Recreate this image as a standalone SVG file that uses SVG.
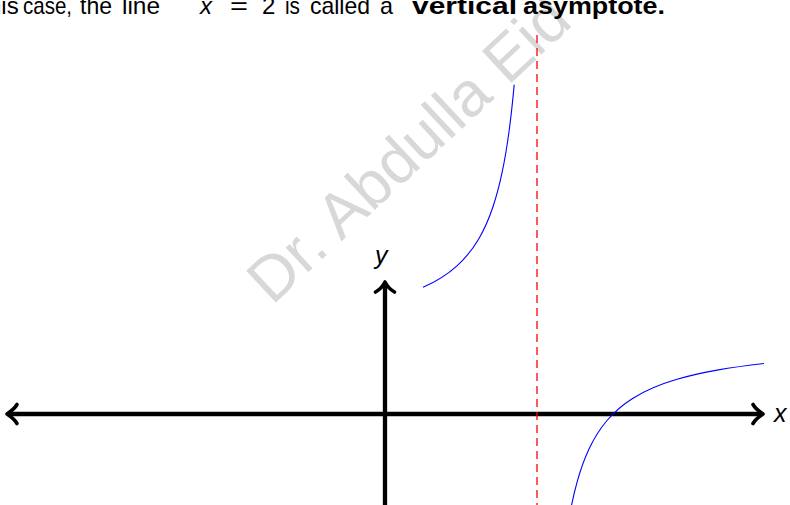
<svg xmlns="http://www.w3.org/2000/svg" width="790" height="505" viewBox="0 0 790 505">
  <style>
    .top { font-family: "Liberation Sans", Arial, sans-serif; font-size: 24px; fill: #000; }
    .bold { font-weight: bold; }
    .lbl { font-family: "Liberation Sans", Arial, sans-serif; font-size: 25px; font-style: italic; fill: #000; }
    .wm { font-family: "Liberation Sans", Arial, sans-serif; font-size: 63px; fill: #d8d8d8; }
    .axis { stroke: #000; stroke-width: 4.3; fill: none; }
    .head { stroke: #000; stroke-width: 3.6; fill: none; stroke-linecap: round; stroke-linejoin: round; }
    .curve { stroke: #0000ff; stroke-width: 1.1; fill: none; }
    .asym { stroke: #ff0000; stroke-width: 1.3; fill: none; stroke-dasharray: 8 5; }
  </style>
  <rect width="790" height="505" fill="#fff"/>

  <g id="watermark">
    <text class="wm" transform="translate(272,306) rotate(-43)">Dr. Abdulla Eid</text>
  </g>

  <g id="caption">
    <text class="top" y="14"><tspan x="-12">his</tspan><tspan x="23" textLength="49" lengthAdjust="spacingAndGlyphs">case,</tspan><tspan x="80" textLength="32" lengthAdjust="spacingAndGlyphs">the</tspan><tspan x="122" textLength="38" lengthAdjust="spacingAndGlyphs">line</tspan><tspan x="200" font-style="italic">x</tspan><tspan x="230" textLength="18" lengthAdjust="spacingAndGlyphs">=</tspan><tspan x="262">2</tspan><tspan x="285" textLength="15" lengthAdjust="spacingAndGlyphs">is</tspan><tspan x="310" textLength="60" lengthAdjust="spacingAndGlyphs">called</tspan><tspan x="380" textLength="13" lengthAdjust="spacingAndGlyphs">a</tspan><tspan x="412" class="bold" textLength="105" lengthAdjust="spacingAndGlyphs">vertical</tspan><tspan x="523" class="bold" textLength="142" lengthAdjust="spacingAndGlyphs">asymptote.</tspan></text>
  </g>

  <g id="connectors">
    <g id="x-axis">
      <line class="axis" x1="9" y1="414" x2="761" y2="414"/>
      <path class="head" d="M17,404.5 C15,408 10,412 7,414 C10,416 15,420 17,423.5"/>
      <path class="head" d="M753,404.5 C755,408 760,412 763,414 C760,416 755,420 753,423.5"/>
    </g>
    <g id="y-axis">
      <line class="axis" x1="385" y1="510" x2="385" y2="284"/>
      <path class="head" d="M375.5,292 C379,290 383,286 385,282 C387,286 391,290 394.5,292"/>
    </g>
    <line id="asymptote" class="asym" x1="537" y1="35" x2="537" y2="505"/>
    <path id="branch-left" class="curve" d="M423,287.33 C434.33,282.29 445.67,276.03 457,265.8 C464.33,259.18 471.67,251 479,238.41 C483.67,230.4 488.33,220.65 493,206.73 C496,197.78 499,187.12 502,172.97 C504.33,161.97 506.67,148.9 509,131.71 C510.73,118.94 512.47,103.93 514.2,84.67"/>
    <path id="branch-right" class="curve" d="M569,518.5 C571.67,503.46 574.33,492.03 577,482.4 C581,467.96 585,457.62 589,449.08 C595,436.26 601,427.58 607,420.51 C615.67,410.29 624.33,403.6 633,398.17 C647.67,388.98 662.33,383.58 677,379.26 C690.33,375.33 703.67,372.47 717,370.09 C732.67,367.3 748.33,365.2 764,363.44"/>
  </g>

  <g id="label-x"><text class="lbl" x="774" y="422">x</text></g>
  <g id="label-y"><text class="lbl" x="375" y="264">y</text></g>
</svg>
